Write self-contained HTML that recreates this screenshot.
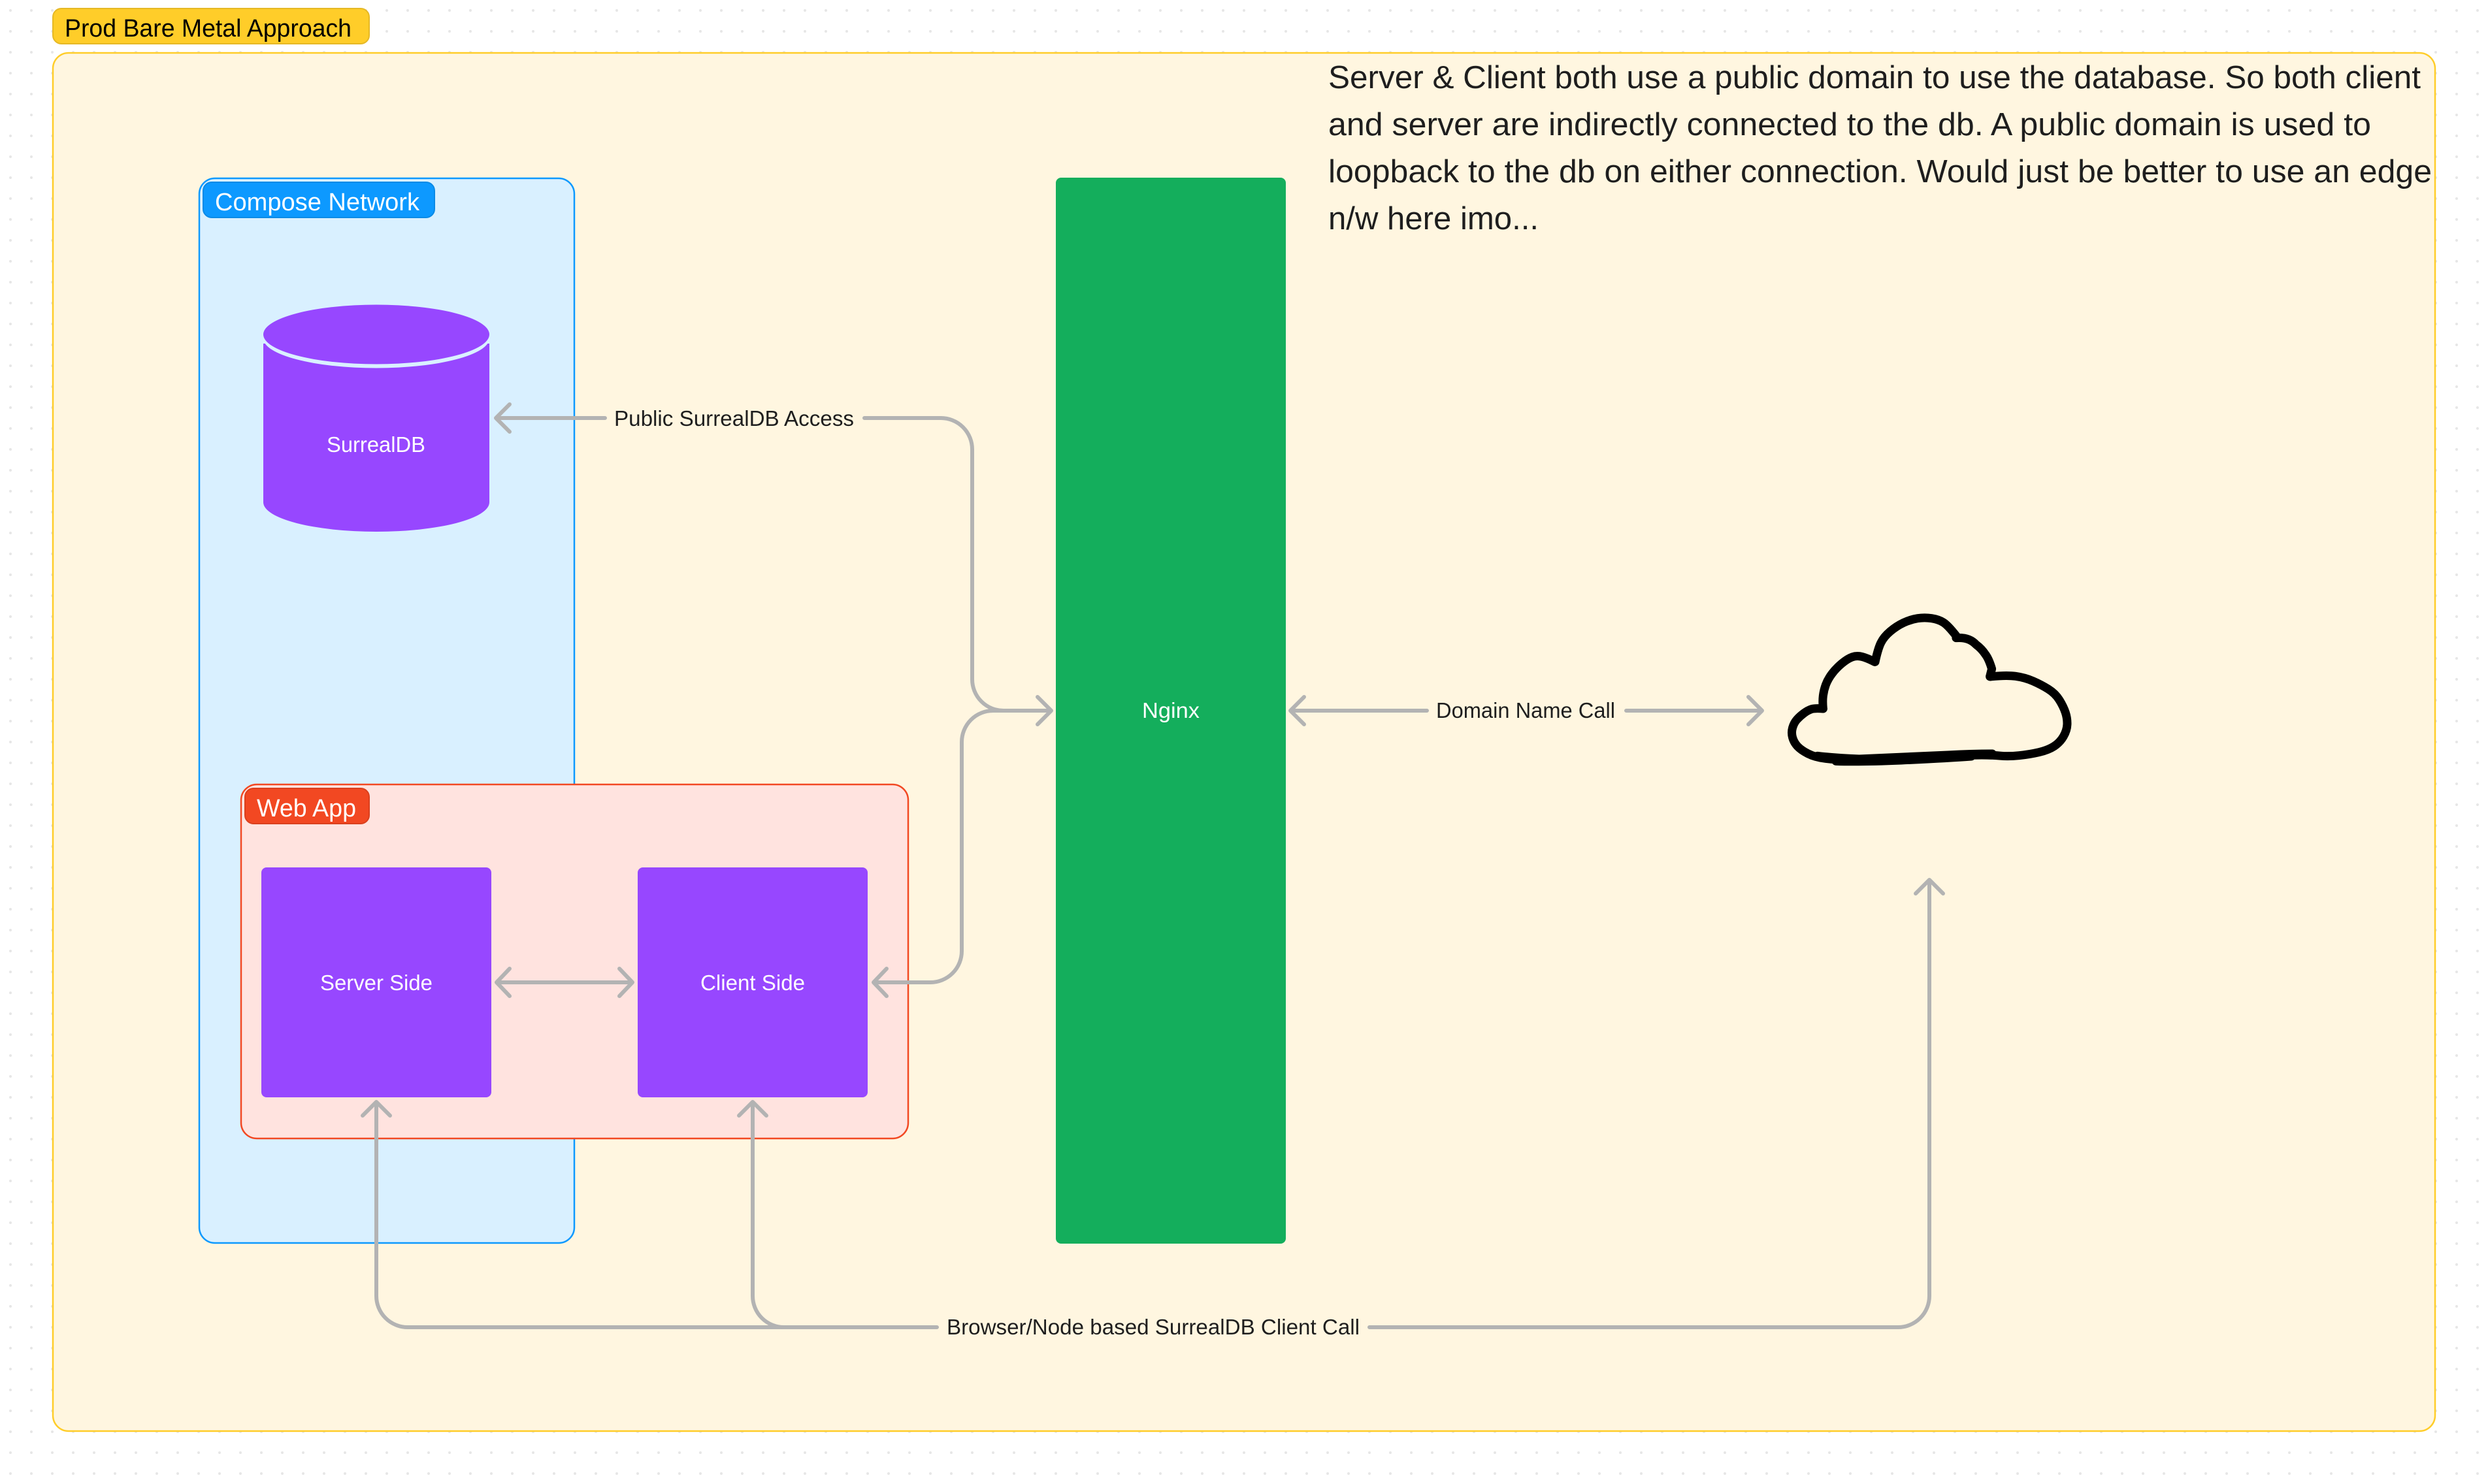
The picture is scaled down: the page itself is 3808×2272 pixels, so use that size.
<!DOCTYPE html>
<html><head><meta charset="utf-8"><style>
html,body{margin:0;padding:0;background:#fff;width:3808px;height:2272px;overflow:hidden}
svg{display:block}
text{font-family:"Liberation Sans",sans-serif}
.c{fill:none;stroke:#b3b3b3;stroke-width:6;stroke-linecap:round;stroke-linejoin:round}
.l{font-size:33px;fill:#1e1e1e}
.w{font-size:33px;fill:#fff}
.n{font-size:49px;fill:#1e1e1e}
.t{font-size:38px}
.k{fill:none;stroke:#000;stroke-width:13;stroke-linecap:round;stroke-linejoin:round;vector-effect:non-scaling-stroke}
</style></head><body>
<svg width="3808" height="2272" viewBox="0 0 3808 2272" xmlns="http://www.w3.org/2000/svg">
<defs><pattern id="d" width="32" height="32" patternUnits="userSpaceOnUse"><circle cx="16" cy="16" r="2" fill="#e6e6e6"/></pattern></defs>
<rect width="3808" height="2272" fill="#fff"/>
<rect width="3808" height="2272" fill="url(#d)"/>

<rect x="81" y="81" width="3646" height="2110" rx="24" fill="#fff6e0" stroke="#ffcd29" stroke-width="2.5"/>
<rect x="81" y="13" width="484" height="54" rx="13" fill="#ffcd29" stroke="#e5b825" stroke-width="2"/>
<text class="t" x="99" y="56" fill="#000" textLength="439" lengthAdjust="spacingAndGlyphs">Prod Bare Metal Approach</text>

<rect x="305" y="273" width="574" height="1630" rx="24" fill="#d9f0ff" stroke="#0d99ff" stroke-width="2.5"/>
<rect x="311" y="279" width="354" height="54" rx="13" fill="#0d99ff" stroke="#0b8ae6" stroke-width="2"/>
<text class="t" x="329" y="322" fill="#fff" textLength="313" lengthAdjust="spacingAndGlyphs">Compose Network</text>

<path d="M403 526 V769 A173 45 0 0 0 749 769 V526 Z" fill="#9747ff"/>
<ellipse cx="576" cy="518" rx="173" ry="45.5" fill="#d9f0ff"/>
<ellipse cx="576" cy="512" rx="173" ry="45.5" fill="#9747ff"/>
<text class="w" x="500" y="692" textLength="151" lengthAdjust="spacingAndGlyphs">SurrealDB</text>

<rect x="369" y="1201" width="1021" height="542" rx="24" fill="#ffe3df" stroke="#f24822" stroke-width="2.5"/>
<rect x="375" y="1207" width="190" height="54" rx="13" fill="#f24822" stroke="#d9401e" stroke-width="2"/>
<text class="t" x="393" y="1250" fill="#fff" textLength="152" lengthAdjust="spacingAndGlyphs">Web App</text>

<rect x="400" y="1328" width="352" height="352" rx="8" fill="#9747ff"/>
<text class="w" x="490" y="1516" textLength="172" lengthAdjust="spacingAndGlyphs">Server Side</text>
<rect x="976" y="1328" width="352" height="352" rx="8" fill="#9747ff"/>
<text class="w" x="1072" y="1516" textLength="160" lengthAdjust="spacingAndGlyphs">Client Side</text>

<rect x="1616" y="272" width="352" height="1632" rx="8" fill="#14ae5c"/>
<text class="w" x="1748" y="1099" textLength="88" lengthAdjust="spacingAndGlyphs">Nginx</text>

<g class="c">
<path d="M762 1504 H968 M780 1483 L760 1504 L780 1525 M948 1483 L968 1504 L948 1525"/>
<path d="M1337 1504 H1424 A48 48 0 0 0 1472 1456 V1136 A48 48 0 0 1 1520 1088 H1608 M1357 1483 L1337 1504 L1357 1525"/>
<path d="M1323 640 H1440 A48 48 0 0 1 1488 688 V1040 A48 48 0 0 0 1536 1088 H1608 M1588 1067 L1609 1088 L1588 1109"/>
<path d="M926 640 H760 M780 619 L759 640 L780 661"/>
<path d="M2184 1088 H1976 M1996 1067 L1975 1088 L1996 1109"/>
<path d="M2489 1088 H2696 M2676 1067 L2697 1088 L2676 1109"/>
<path d="M1434 2032 H624 A48 48 0 0 1 576 1984 V1688 M555 1708 L576 1687 L597 1708"/>
<path d="M1200 2032 A48 48 0 0 1 1152 1984 V1688 M1131 1708 L1152 1687 L1173 1708"/>
<path d="M2096 2032 H2905 A48 48 0 0 0 2953 1984 V1348 M2932 1368 L2953 1347 L2974 1368"/>
</g>

<text class="l" x="940" y="652" textLength="367" lengthAdjust="spacingAndGlyphs">Public SurrealDB Access</text>
<text class="l" x="2198" y="1099" textLength="274" lengthAdjust="spacingAndGlyphs">Domain Name Call</text>
<text class="l" x="1449" y="2043" textLength="632" lengthAdjust="spacingAndGlyphs">Browser/Node based SurrealDB Client Call</text>

<text class="n" x="2033" y="135" textLength="1672" lengthAdjust="spacingAndGlyphs">Server &amp; Client both use a public domain to use the database. So both client</text>
<text class="n" x="2033" y="207" textLength="1596" lengthAdjust="spacingAndGlyphs">and server are indirectly connected to the db. A public domain is used to</text>
<text class="n" x="2033" y="279" textLength="1689" lengthAdjust="spacingAndGlyphs">loopback to the db on either connection. Would just be better to use an edge</text>
<text class="n" x="2033" y="351" textLength="322" lengthAdjust="spacingAndGlyphs">n/w here imo...</text>

<g transform="translate(2660 880) scale(.35714 .33333)">
<path class="k" d="M365 615 Q330 612 315 617 Q300 622 282.5 636 Q265 650 252.5 665 Q240 680 234 702.5 Q228 725 234 747.5 Q240 770 255 787.5 Q270 805 300 821.5 Q330 838 375 844 Q420 850 470 852.5 Q520 855 610 850 Q700 845 800 840 Q900 835 950 831.5 Q1000 828 1045 828 Q1090 828 1125 831.5 Q1160 835 1205 830 Q1250 825 1290 815 Q1330 805 1355 787.5 Q1380 770 1395 742.5 Q1410 715 1411 687.5 Q1412 660 1403.5 632.5 Q1395 605 1377.5 575 Q1360 545 1330 525 Q1300 505 1265 488.5 Q1230 472 1190 466 Q1150 460 1080 468"/>
<path class="k" d="M340 832 Q420 842 520 846 Q700 838 900 828 Q1000 822 1090 822 M420 856 Q520 860 700 852 Q900 842 1000 834"/>
<path class="k" d="M1080 466 L1088 432 Q1075 385 1060 365 Q1045 340 1020 320 Q990 285 935 290"/>
<path class="k" d="M935 280 Q900 232 880 218.5 Q860 205 830 200 Q800 195 770 200 Q740 205 710 220 Q680 235 652.5 260 Q625 285 612.5 312.5 Q600 340 588 400"/>
<path class="k" d="M586 400 Q555 383 532.5 376.5 Q510 370 490 377.5 Q470 385 445 407.5 Q420 430 402.5 455 Q385 480 376.5 505 Q368 530 365 555 Q362 580 365 615"/>
</g>
</svg>
</body></html>
